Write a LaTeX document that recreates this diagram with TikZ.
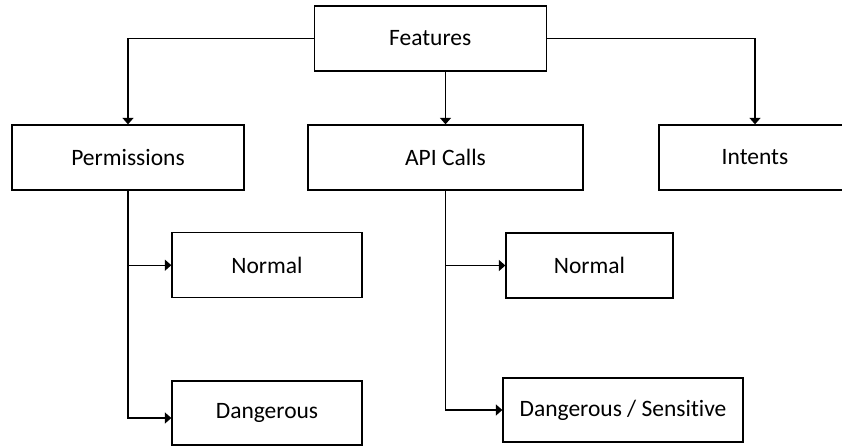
\documentclass[tikz,border=0pt]{standalone}
\usepackage{fontspec}
\setmainfont{Carlito}[Ligatures=NoCommon]
\usetikzlibrary{arrows.meta}
\begin{document}
\begin{tikzpicture}[x=1pt,y=-1pt,
  box/.style={draw=black,line width=1.3pt,minimum height=65pt,inner sep=0pt,
    font=\fontsize{23.5}{28}\selectfont},
  conn/.style={line width=1.3pt,-{Triangle[width=11pt,length=6.5pt]}}]
\useasboundingbox (0,0) rectangle (842,446);
\node[box,minimum width=232pt] (F) at (430.2,38.5) {Features};
\node[box,minimum width=232pt] (P) at (128,157.5) {Permissions};
\node[box,minimum width=275pt] (A) at (445.5,157.5) {API Calls};
\node[box,minimum width=192pt] (I) at (755,157.5) {Intents};
\node[box,minimum width=190pt] (N1) at (267,265.2) {Normal};
\node[box,minimum width=190pt,minimum height=64pt] (D1) at (267,413) {Dangerous};
\node[box,minimum width=167pt] (N2) at (589.5,265.5) {Normal};
\node[box,minimum width=240pt,minimum height=64pt] (D2) at (623,410) {Dangerous / Sensitive};
\draw[conn] (F.west) -| (P.north);
\draw[conn] (A.north |- F.south) -- (A.north);
\draw[conn] (F.east) -| (I.north);
\draw[conn] (P.south |- N1.west) -- (N1.west);
\draw[conn] (P.south) |- ([yshift=-5pt]D1.west);
\draw[conn] (A.south |- N2.west) -- (N2.west);
\draw[conn] (A.south) |- (D2.west);
\end{tikzpicture}
\end{document}
